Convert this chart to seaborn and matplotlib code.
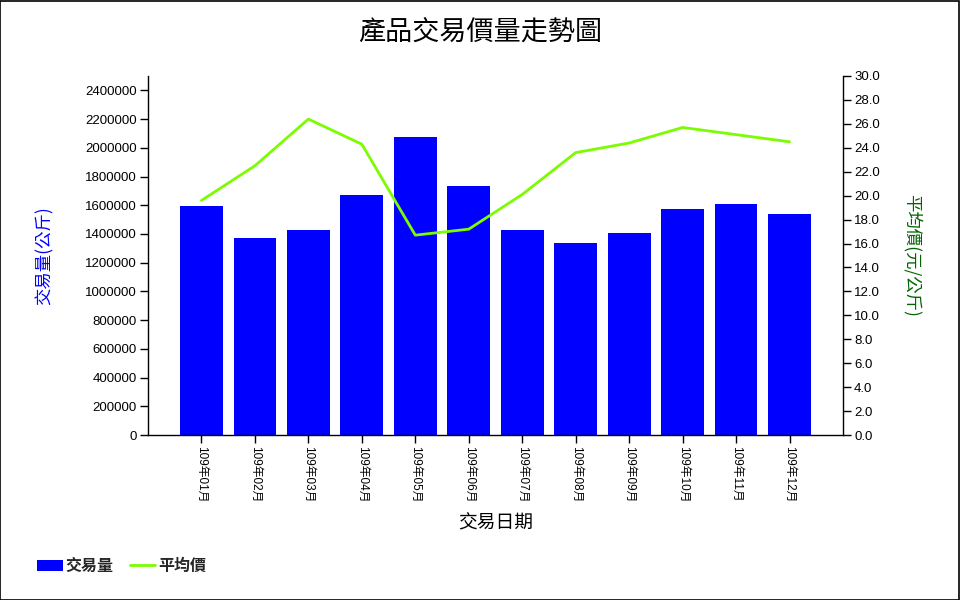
import matplotlib
matplotlib.use("Agg")
import matplotlib.pyplot as plt
import seaborn as sns
import pandas as pd
import numpy as np
from matplotlib.patches import Patch, Rectangle
from matplotlib.lines import Line2D
from matplotlib.ticker import FormatStrFormatter

months = ["109年01月", "109年02月", "109年03月", "109年04月", "109年05月", "109年06月",
          "109年07月", "109年08月", "109年09月", "109年10月", "109年11月", "109年12月"]
volume = [1595000, 1374000, 1428000, 1671000, 2075000, 1734000,
          1428000, 1337000, 1407000, 1574000, 1609000, 1539000]
price = [19.6, 22.5, 26.4, 24.3, 16.7, 17.2, 20.1, 23.6, 24.4, 25.7, 25.1, 24.5]

title = "產品交易價量走勢圖"
xlabel = "交易日期"
ylabel_left = "交易量(公斤)"
ylabel_right = "平均價(元/公斤)"
legend_labels = ["交易量", "平均價"]

sns.set_theme(style="white")
plt.rcParams["font.family"] = ["Liberation Sans", "Noto Sans CJK TC", "DejaVu Sans"]

df = pd.DataFrame({"month": months, "volume": volume, "price": price})

fig = plt.figure(figsize=(9.6, 6), dpi=100)
ax = fig.add_axes([148/960, 1-435/600, (843-148)/960, (435-76)/600])

sns.barplot(data=df, x="month", y="volume", color="#0000FF", saturation=1,
            width=0.8, ax=ax, edgecolor="none", linewidth=0)
ax.set_ylim(0, 2500000)
ax.set_yticks(np.arange(0, 2400001, 200000))
ax.yaxis.set_major_formatter(FormatStrFormatter("%d"))

ax2 = ax.twinx()
sns.lineplot(x=np.arange(len(months)), y=price, ax=ax2, color="#7CFC00", linewidth=2,
             sort=False)
ax2.set_ylim(0, 30)
ax2.set_yticks(np.arange(0, 30.01, 2))
ax2.yaxis.set_major_formatter(FormatStrFormatter("%.1f"))
ax.set_xlim(-1, 12)

for a in (ax, ax2):
    a.spines["top"].set_visible(False)
    for s in ("left", "right", "bottom"):
        a.spines[s].set_color("black")
        a.spines[s].set_linewidth(1)
ax.spines["right"].set_visible(False)
ax2.spines["left"].set_visible(False)
ax2.spines["bottom"].set_visible(False)

ax.tick_params(axis="y", direction="out", length=6, width=1, color="black",
               labelsize=9.5, left=True, labelcolor="black", pad=2)
ax2.tick_params(axis="y", direction="out", length=6, width=1, color="black",
                labelsize=9.5, right=True, labelcolor="black", pad=2)
ax.tick_params(axis="x", direction="out", length=6, width=1, color="black",
               labelsize=8.5, bottom=True, labelcolor="black", pad=2)
ax.set_xticks(np.arange(len(months)))
ax.set_xticklabels(months, rotation=270, fontsize=8.5,
                   family=["Liberation Sans", "Noto Sans CJK TC"])

ax.set_xlabel(xlabel, fontsize=13.5, family=["Noto Sans CJK TC"], color="black")
ax.xaxis.set_label_coords(0.5, -0.215)
ax.set_ylabel(ylabel_left, fontsize=12.5, family=["Noto Sans CJK TC"], color="#0000FF")
ax.yaxis.set_label_coords(-0.135, 0.5)
ax2.set_ylabel(ylabel_right, fontsize=12.5, family=["Noto Sans CJK TC"], color="#006400",
               rotation=270, va="center")
ax2.yaxis.set_label_coords(1.099, 0.5)
ax.grid(False)
ax2.grid(False)

fig.text(0.5, 1-33/600, title, ha="center", va="center", fontsize=19.5,
         family=["Noto Sans CJK TC"], color="black")

handles = [Patch(facecolor="#0000FF", edgecolor="none"),
           Line2D([0], [0], color="#7CFC00", linewidth=2)]
fig.legend(handles, legend_labels, loc="center left", bbox_to_anchor=(0.0385, 1-566/600),
           ncol=2, frameon=False, handlelength=1.6, handleheight=0.7, handletextpad=0.2,
           columnspacing=1.0, borderaxespad=0, borderpad=0,
           prop={"family": "Noto Sans CJK TC", "weight": "bold", "size": 11.5})

fig.patches.append(Rectangle((0.0005, 0.0008), 0.998, 0.998, transform=fig.transFigure,
                             fill=False, edgecolor="black", linewidth=1.2))

fig.savefig("out.png", dpi=100)
